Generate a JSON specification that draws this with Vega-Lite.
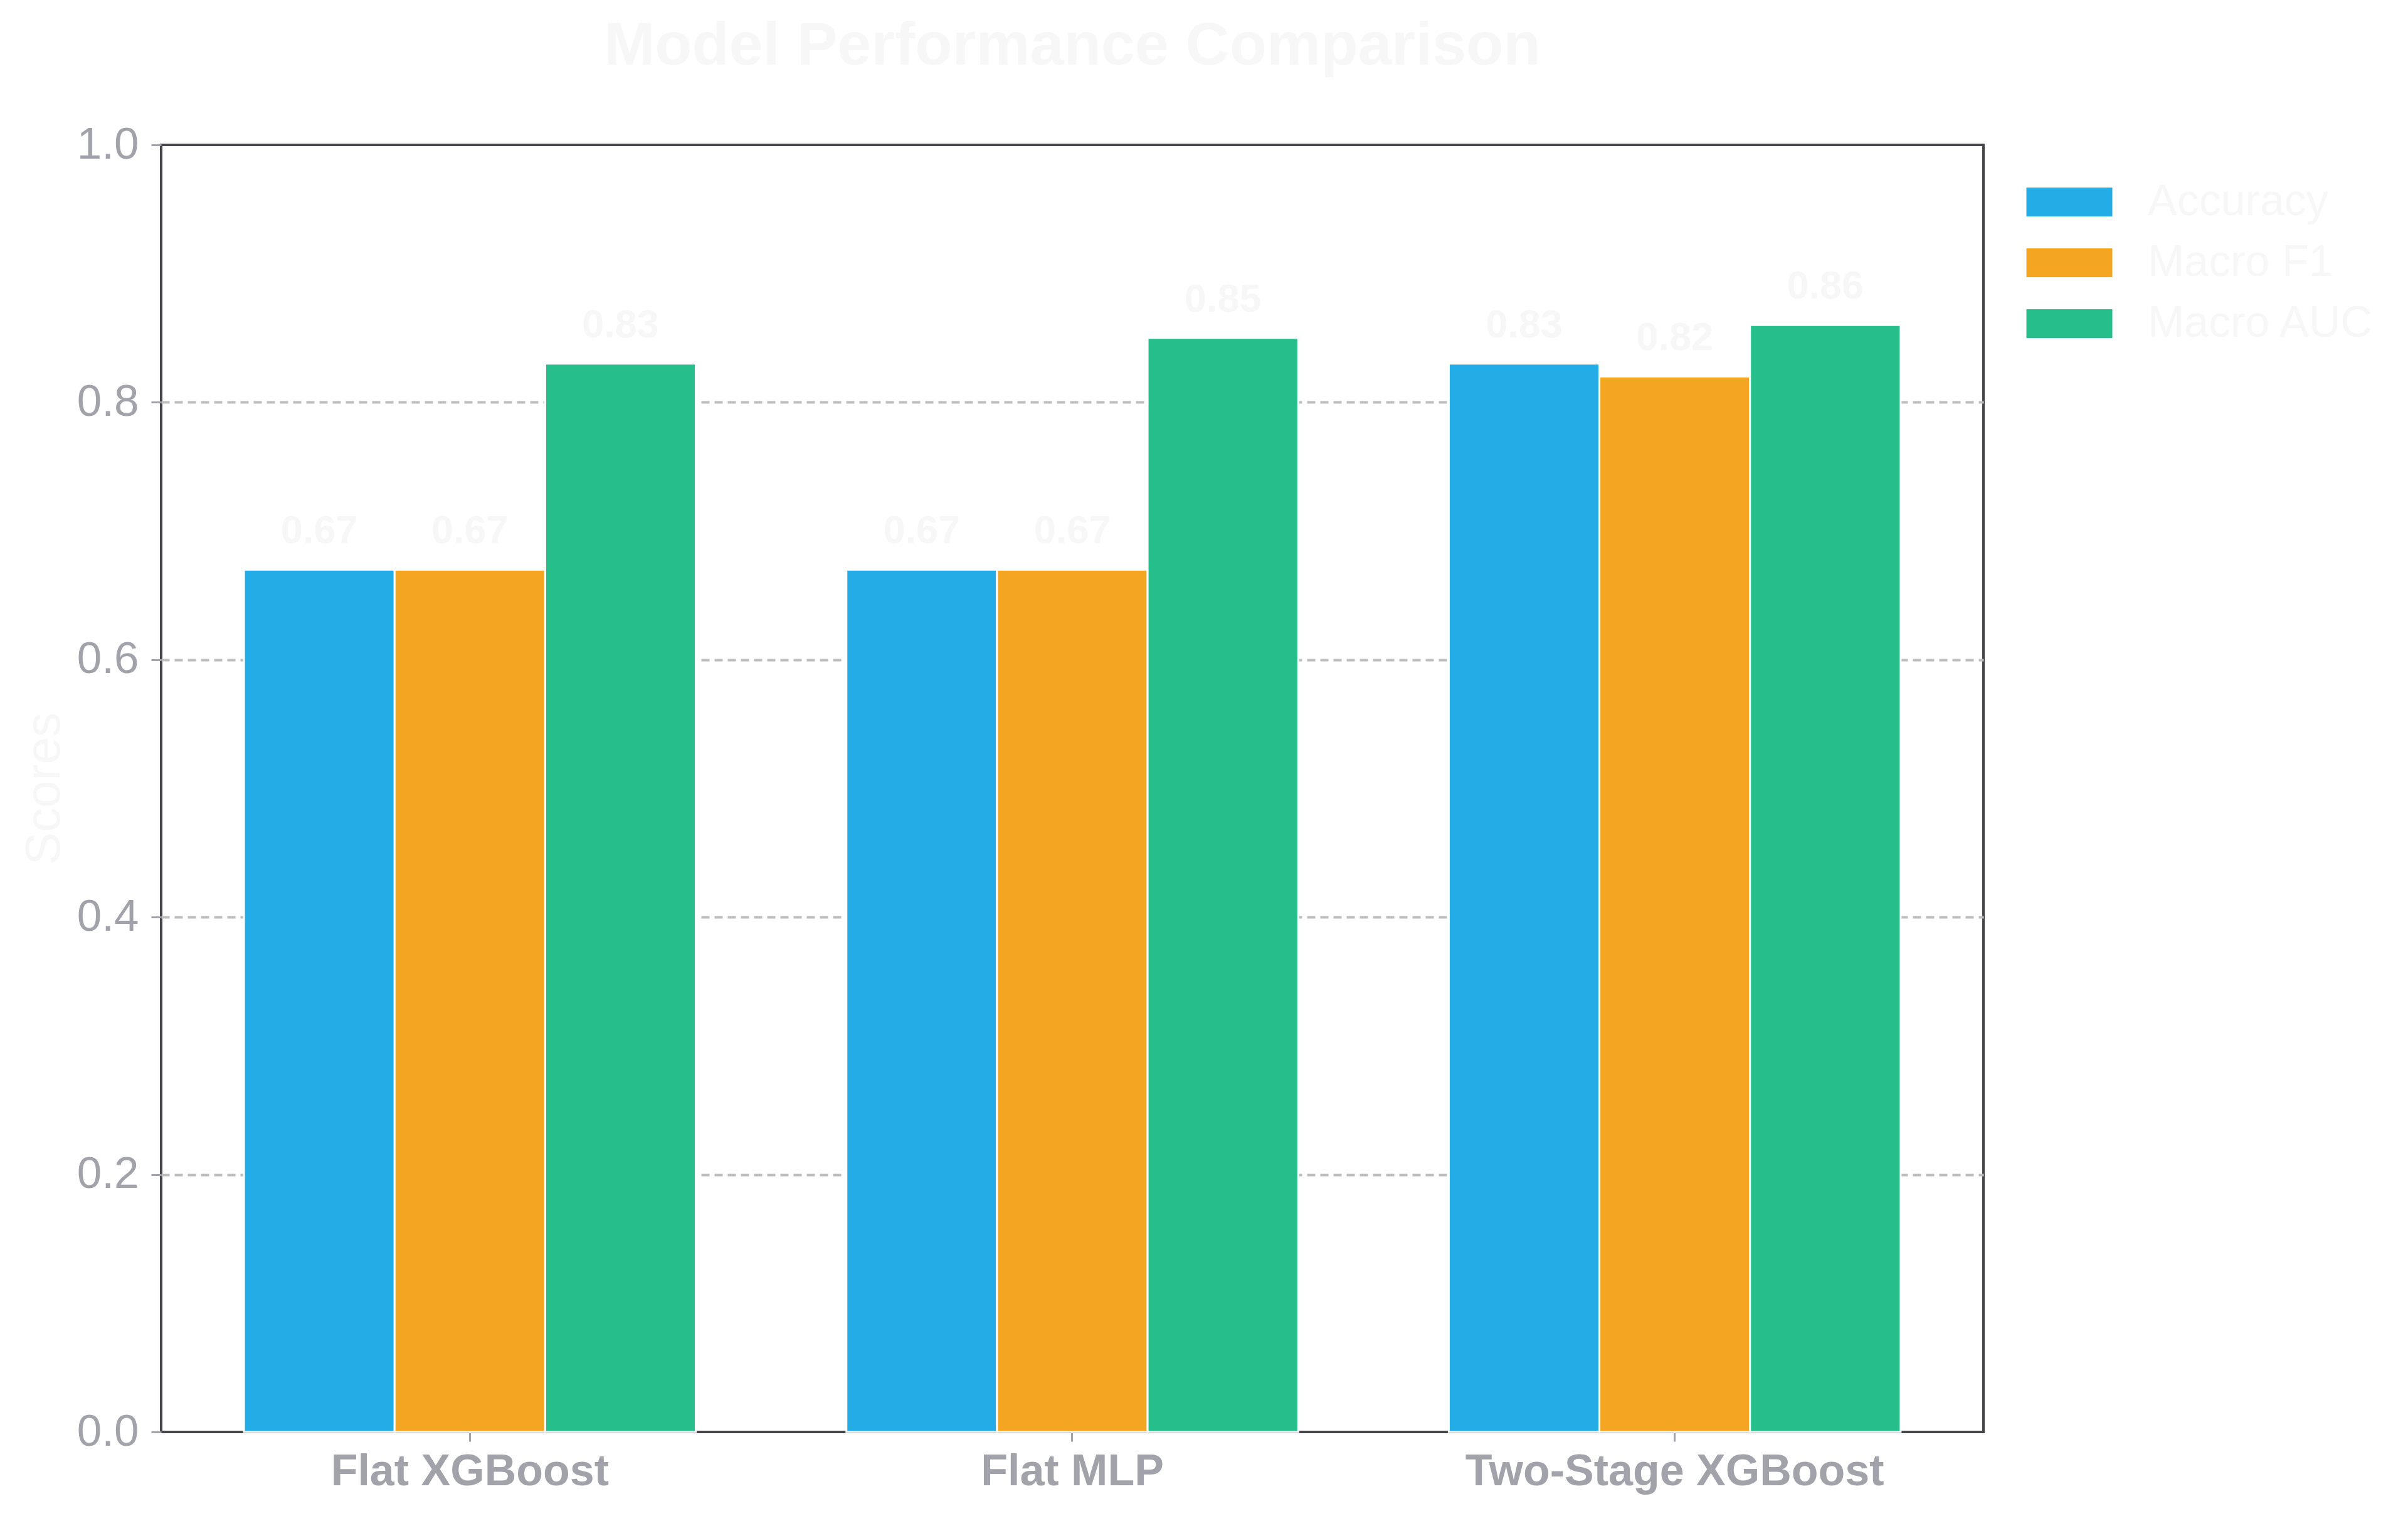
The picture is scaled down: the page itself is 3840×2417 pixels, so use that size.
{
  "$schema": "https://vega.github.io/schema/vega-lite/v6.json",
  "autosize": {"type": "none"},
  "padding": {"left": 257, "top": 231, "right": 677, "bottom": 134},
  "width": 2906,
  "height": 2052,
  "background": "white",
  "title": {
    "text": "Model Performance Comparison",
    "font": "Liberation Sans",
    "fontSize": 97,
    "fontWeight": "bold",
    "color": "#F7F7F7",
    "anchor": "middle",
    "offset": 72
  },
  "config": {
    "view": {"stroke": "#45454B", "strokeWidth": 4},
    "font": "Liberation Sans"
  },
  "data": {
    "values": [
      {"model": "Flat XGBoost", "metric": "Accuracy", "value": 0.67},
      {"model": "Flat XGBoost", "metric": "Macro F1", "value": 0.67},
      {"model": "Flat XGBoost", "metric": "Macro AUC", "value": 0.83},
      {"model": "Flat MLP", "metric": "Accuracy", "value": 0.67},
      {"model": "Flat MLP", "metric": "Macro F1", "value": 0.67},
      {"model": "Flat MLP", "metric": "Macro AUC", "value": 0.85},
      {"model": "Two-Stage XGBoost", "metric": "Accuracy", "value": 0.83},
      {"model": "Two-Stage XGBoost", "metric": "Macro F1", "value": 0.82},
      {"model": "Two-Stage XGBoost", "metric": "Macro AUC", "value": 0.86}
    ]
  },
  "encoding": {
    "x": {
      "field": "model",
      "type": "nominal",
      "sort": ["Flat XGBoost", "Flat MLP", "Two-Stage XGBoost"],
      "scale": {"paddingInner": 0.25, "paddingOuter": 0.1375},
      "axis": {
        "title": null,
        "labelAngle": 0,
        "labelFont": "Liberation Sans",
        "labelFontSize": 70,
        "labelFontWeight": "bold",
        "labelColor": "#A2A2AA",
        "labelPadding": 14,
        "labelLimit": 2000,
        "tickSize": 15,
        "tickWidth": 3,
        "tickColor": "#A2A2AA",
        "domain": false,
        "grid": false
      }
    },
    "xOffset": {
      "field": "metric",
      "type": "nominal",
      "sort": ["Accuracy", "Macro F1", "Macro AUC"],
      "scale": {"paddingInner": 0, "paddingOuter": 0}
    },
    "y": {
      "field": "value",
      "type": "quantitative",
      "scale": {"domain": [0, 1], "nice": false, "zero": true},
      "axis": {
        "title": "Scores",
        "titleFont": "Liberation Sans",
        "titleFontSize": 78,
        "titleFontWeight": "normal",
        "titleColor": "#F7F7F7",
        "titlePadding": 12,
        "values": [0, 0.2, 0.4, 0.6, 0.8, 1.0],
        "format": ".1f",
        "labelFont": "Liberation Sans",
        "labelFontSize": 71,
        "labelColor": "#A2A2AA",
        "labelPadding": 20,
        "tickSize": 16,
        "tickWidth": 3,
        "tickColor": "#A2A2AA",
        "domain": false,
        "grid": true,
        "gridColor": "#BDBDBD",
        "gridWidth": 4,
        "gridDash": [13, 8],
        "gridOpacity": {
          "condition": {"test": "datum.value <= 0.001 || datum.value >= 0.999", "value": 0},
          "value": 1
        }
      }
    }
  },
  "layer": [
    {
      "mark": {"type": "bar", "stroke": "white", "strokeWidth": 3},
      "encoding": {
        "color": {
          "field": "metric",
          "type": "nominal",
          "sort": ["Accuracy", "Macro F1", "Macro AUC"],
          "scale": {
            "domain": ["Accuracy", "Macro F1", "Macro AUC"],
            "range": ["#24ACE7", "#F4A622", "#26BF8B"]
          },
          "legend": {
            "title": null,
            "orient": "none",
            "legendX": 3008,
            "legendY": 56,
            "padding": 0,
            "symbolType": "M-2.74,-0.92H2.74V0.92H-2.74Z",
            "symbolSize": 2500,
            "symbolStrokeWidth": 0,
            "symbolOpacity": 1,
            "labelFont": "Liberation Sans",
            "labelFontSize": 70,
            "labelColor": "#F7F7F7",
            "labelOffset": 90,
            "rowPadding": 27,
            "labelLimit": 1000
          }
        }
      }
    },
    {
      "mark": {
        "type": "text",
        "baseline": "alphabetic",
        "align": "center",
        "dy": -42,
        "font": "Liberation Sans",
        "fontSize": 63,
        "fontWeight": "bold",
        "color": "#F7F7F7"
      },
      "encoding": {
        "text": {"field": "value", "type": "quantitative", "format": ".2f"}
      }
    }
  ]
}
